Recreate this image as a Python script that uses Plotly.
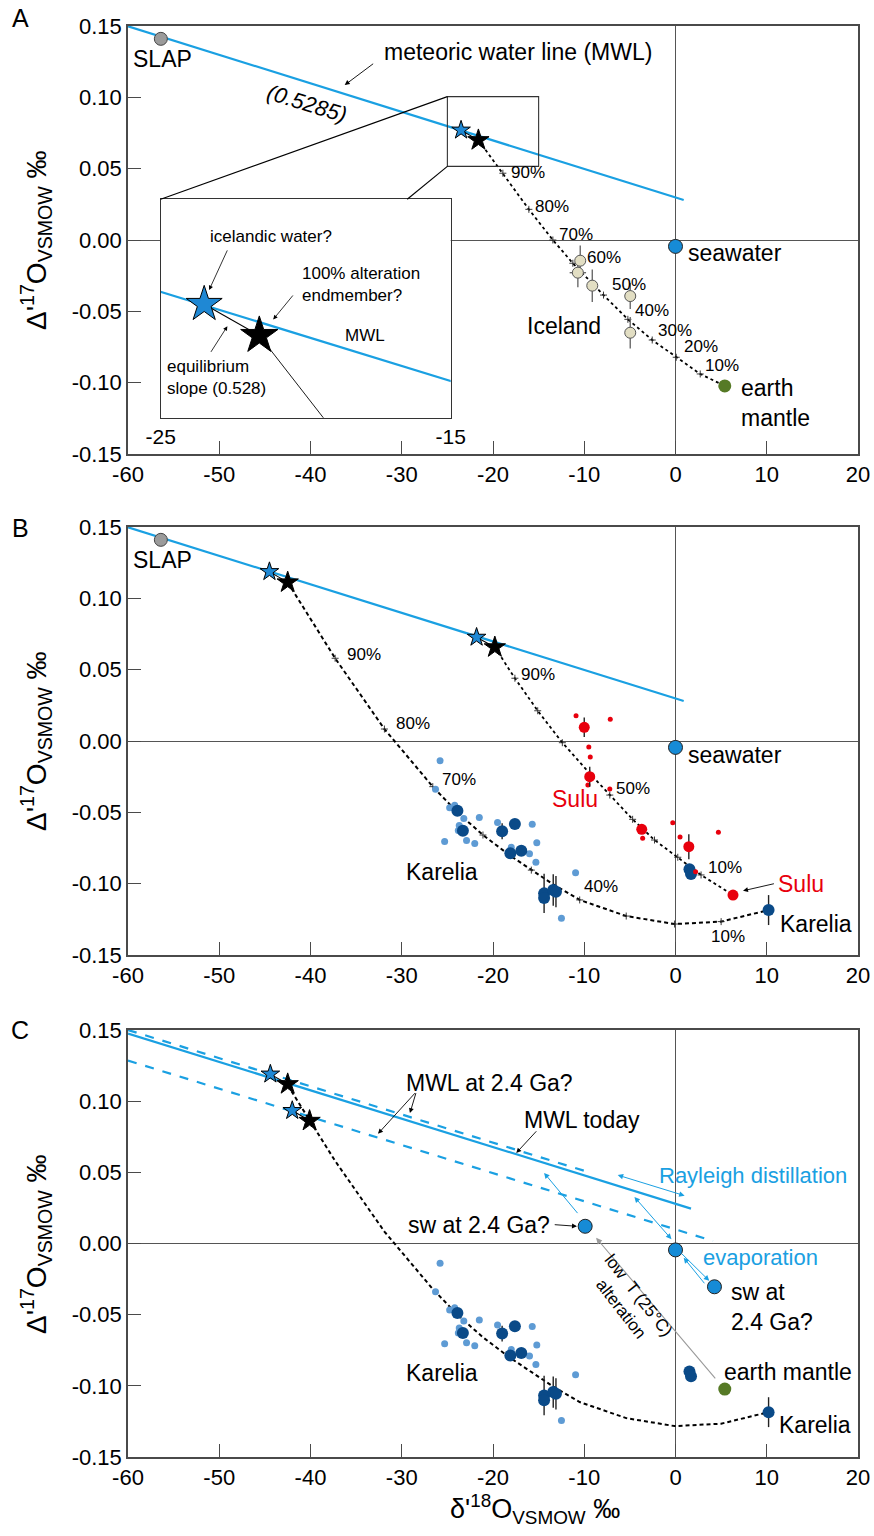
import plotly.graph_objects as go

# ---------------- data ----------------
XTICKS = [-60, -50, -40, -30, -20, -10, 0, 10, 20]
XTICK_LABELS = ["-60", "-50", "-40", "-30", "-20", "-10", "0", "10", "20"]
YTICKS = [-0.15, -0.10, -0.05, 0.0, 0.05, 0.10, 0.15]
YTICK_LABELS = ["-0.15", "-0.10", "-0.05", "0.00", "0.05", "0.10", "0.15"]

# meteoric water lines
MWL_X = [-60, 0.9]
MWL_Y = [0.1498, 0.0280]
MWL_C_X = [-60, 1.7]
MWL_C_Y = [0.1475, 0.0245]
MWL_UP_X = [-60, -9.2]
MWL_UP_Y = [0.1500, 0.0495]
MWL_LOW_X = [-60, 4.1]
MWL_LOW_Y = [0.1285, 0.0018]

SLAP_X, SLAP_Y = [-56.4], [0.141]
SEAWATER_X, SEAWATER_Y = [0.0], [-0.0045]
MANTLE_X, MANTLE_Y = [5.4], [-0.1023]

# panel A
A_STAR_BLUE_X, A_STAR_BLUE_Y = [-23.5], [0.077]
A_STAR_BLACK_X, A_STAR_BLACK_Y = [-21.6], [0.070]
ICE_CURVE_X = [-21.6, -18.92, -16.07, -13.44, -11.25, -7.89, -5.22, -2.55, 0.08, 2.71, 5.4]
ICE_CURVE_Y = [0.070, 0.0468, 0.0215, 0.0, -0.0163, -0.0386, -0.0556, -0.0701, -0.0822, -0.0939, -0.1023]
ICE_PCT = ["90%", "80%", "70%", "60%", "50%", "40%", "30%", "20%", "10%"]
ICE_PCT_X = [-16.2, -13.5, -10.9, -7.8, -5.1, -2.6, -0.1, 2.8, 5.1]
ICE_PCT_Y = [0.0474, 0.0238, 0.0042, -0.0124, -0.0311, -0.0491, -0.0631, -0.0748, -0.0881]
ICE_X = [-10.44, -10.70, -9.12, -4.96, -4.96]
ICE_Y = [-0.0145, -0.0229, -0.0320, -0.0393, -0.0650]
ICE_EY = [0.0107, 0.0103, 0.0114, 0.0091, 0.0110]
ICE_EX = [0.4, 0.9, 0.0, 0.0, 0.0]

# inset of panel A
INSET_XR = [-25, -15]
INSET_YR = [0.0516, 0.1005]
INSET_TICKS = [-25, -15]
INSET_TICK_LABELS = ["-25", "-15"]

# panel B / C
B_STAR_BLUE_X, B_STAR_BLUE_Y = [-44.5, -21.8], [0.1187, 0.0727]
B_STAR_BLACK_X, B_STAR_BLACK_Y = [-42.5, -19.8], [0.1112, 0.0657]
KAR_CURVE_X = [-42.5, -37.3, -31.9, -29.1, -26.6, -23.8, -21.1, -18.2, -15.8, -13.4, -10.5, -5.4, -0.1, 5.0, 10.2]
KAR_CURVE_Y = [0.1112, 0.058, 0.0084, -0.0133, -0.032, -0.0507, -0.0659, -0.0800, -0.0905, -0.1005, -0.1114, -0.1227, -0.1283, -0.1266, -0.1185]
KAR_TICK_X = [-37.3, -31.9, -26.6, -21.1, -15.8, -10.5, -5.4, -0.1, 5.0]
KAR_TICK_Y = [0.058, 0.0084, -0.032, -0.0659, -0.0905, -0.1114, -0.1227, -0.1283, -0.1266]
KAR_PCT = ["90%", "80%", "70%", "40%", "10%"]
KAR_PCT_X = [-34.1, -28.8, -23.7, -8.2, 5.8]
KAR_PCT_Y = [0.0603, 0.0124, -0.0273, -0.1021, -0.1370]
SULU_CURVE_X = [-19.8, -17.6, -15.1, -12.4, -9.4, -7.2, -4.7, -2.3, 0.25, 2.8, 6.3]
SULU_CURVE_Y = [0.0657, 0.044, 0.0212, -0.0012, -0.0227, -0.0379, -0.0549, -0.0694, -0.0815, -0.0939, -0.108]
SULU_PCT = ["90%", "50%", "10%"]
SULU_PCT_X = [-15.1, -4.7, 5.4]
SULU_PCT_Y = [0.0463, -0.0336, -0.0888]
SULU_BIG_X = [-10.0, -9.4, -3.7, 1.46, 6.3]
SULU_BIG_Y = [0.0096, -0.025, -0.0619, -0.0741, -0.108]
SULU_BIG_EY = [0.0068, 0.0070, 0.0, 0.0088, 0.0]
SULU_SMALL_X = [-10.9, -7.15, -9.5, -9.34, -9.6, -7.2, -3.6, -0.3, 0.5, 4.7, 2.2]
SULU_SMALL_Y = [0.0177, 0.0152, -0.0042, -0.0112, -0.0308, -0.0336, -0.0682, -0.0573, -0.0673, -0.064, -0.0916]
KAR_BIG_X = [-23.9, -23.3, -19.0, -17.6, -18.1, -16.9, -14.4, -14.4, -13.4, -13.1, 1.53, 1.7, 10.2]
KAR_BIG_Y = [-0.0489, -0.0629, -0.0633, -0.0582, -0.0787, -0.0769, -0.1068, -0.1101, -0.1044, -0.1056, -0.0899, -0.0932, -0.1185]
KAR_BIG_EY = [0, 0, 0.0056, 0, 0, 0, 0.0138, 0, 0.011, 0.011, 0, 0, 0.0105]
KAR_SMALL_X = [-25.8, -26.3, -24.75, -24.2, -23.2, -23.7, -23.8, -21.5, -25.3, -22.9, -22.0, -19.5, -15.7, -15.2, -18.0, -16.0, -15.3, -10.95, -12.5]
KAR_SMALL_Y = [-0.0138, -0.0339, -0.0467, -0.0451, -0.0544, -0.0593, -0.0628, -0.0537, -0.0705, -0.0698, -0.0719, -0.0572, -0.0584, -0.0713, -0.0745, -0.079, -0.085, -0.0923, -0.1243]

C_STAR_BLUE_X, C_STAR_BLUE_Y = [-44.4, -42.0], [0.119, 0.0934]
C_STAR_BLACK_X, C_STAR_BLACK_Y = [-42.5, -40.1], [0.112, 0.0862]
SW24_X, SW24_Y = [-9.9, 4.27], [0.0121, -0.0304]

# ---------------- styles ----------------
FONT = "Liberation Sans, Arial, sans-serif"
TICKFONT = "Liberation Sans Narrow, Arial Narrow, Liberation Sans, Arial, sans-serif"
SKY = "#1aa0e2"
STARBLUE = "#1f88d4"
SWBLUE = "#168bd6"
DARKBLUE = "#0a4a88"
LIGHTBLUE = "#5e9bd4"
RED = "#e8000d"
GREEN = "#567a26"
AXC = "#4a4a4a"
KAR_DASH = "4px,3px"

# pixel layout of the three panels
W, H = 874, 1536
ML, MR, MT, MB = 128, 16, 26, 79
PH = H - MT - MB


def ydom(top_px, bot_px):
    return [(H - MB - bot_px) / PH, (H - MB - top_px) / PH]


DOM_A = ydom(26, 454)
DOM_B = ydom(527, 955)
DOM_C = ydom(1030, 1457)
INSET_XD = [(160.7 - ML) / (W - ML - MR), (450.7 - ML) / (W - ML - MR)]
INSET_YD = ydom(199.3, 417.7)

fig = go.Figure()
P = {"A": ("x", "y"), "B": ("x2", "y2"), "C": ("x3", "y3"), "I": ("x4", "y4")}


def tr(panel, **kw):
    xa, ya = P[panel]
    kw.setdefault("showlegend", False)
    kw.setdefault("hoverinfo", "skip")
    fig.add_trace(go.Scatter(xaxis=xa, yaxis=ya, **kw))


def line(panel, x, y, color, width=2, dash="solid"):
    tr(panel, x=x, y=y, mode="lines", line=dict(color=color, width=width, dash=dash))


def pts(panel, x, y, color, size, outline=None, ow=1, symbol="circle", ey=None, ex=None, ecol="#333"):
    kw = dict(x=x, y=y, mode="markers",
              marker=dict(color=color, size=size, symbol=symbol,
                          line=dict(color=outline or color, width=ow if outline else 0)))
    if ey is not None:
        kw["error_y"] = dict(type="data", array=ey, visible=True, color=ecol, thickness=1.4, width=0)
    if ex is not None:
        kw["error_x"] = dict(type="data", array=ex, visible=True, color=ecol, thickness=1.4, width=0)
    tr(panel, **kw)


def stars(panel, bx, by, kx, ky, sb=14, sk=17):
    lx, ly = [], []
    for i in range(len(bx)):
        lx += [bx[i], kx[i], None]
        ly += [by[i], ky[i], None]
    line(panel, lx, ly, "black", 1.1)
    pts(panel, bx, by, STARBLUE, sb, "black", 1, symbol="star")
    pts(panel, kx, ky, "black", sk, "black", 1, symbol="star")


def ticks(panel, x, y):
    tr(panel, x=x, y=y, mode="markers",
       marker=dict(symbol="cross-thin", size=5, line=dict(color="#222", width=0.9)))


ann = []


def label(panel, text, x, y, size=23, color="black", xanchor="center", angle=0, align="center"):
    xa, ya = P[panel]
    ann.append(dict(text=text, x=x, y=y, xref=xa, yref=ya, showarrow=False, xanchor=xanchor,
                    yanchor="middle", textangle=angle, align=align,
                    font=dict(family=FONT, size=size, color=color)))


def labels(panel, texts, xs, ys, size=17):
    for t, x, y in zip(texts, xs, ys):
        label(panel, t, x, y, size=size)


def arrow(panel, xh, yh, xt, yt, color="black", width=1, both=False, head=2, asize=1.1):
    xa, ya = P[panel]
    d = dict(text="", x=xh, y=yh, ax=xt, ay=yt, xref=xa, yref=ya, axref=xa, ayref=ya,
             showarrow=True, arrowhead=head, arrowsize=asize, arrowwidth=width, arrowcolor=color)
    if both:
        d["arrowside"] = "end+start"
        d["startarrowhead"] = head
        d["startarrowsize"] = asize
    ann.append(d)


# ---------------- panel A ----------------
line("A", MWL_X, MWL_Y, SKY, 2.2)
pts("A", SLAP_X, SLAP_Y, "#9b9b9b", 13, "#444", 1)
line("A", ICE_CURVE_X, ICE_CURVE_Y, "black", 1.8, "dot")
ticks("A", ICE_CURVE_X[1:-1], ICE_CURVE_Y[1:-1])
pts("A", ICE_X, ICE_Y, "#e2dec3", 11, "#555", 1, ey=ICE_EY, ex=ICE_EX, ecol="#6a6a6a")
pts("A", SEAWATER_X, SEAWATER_Y, SWBLUE, 14, "#222", 1)
pts("A", MANTLE_X, MANTLE_Y, GREEN, 13)
stars("A", A_STAR_BLUE_X, A_STAR_BLUE_Y, A_STAR_BLACK_X, A_STAR_BLACK_Y, 14, 16)
labels("A", ICE_PCT, ICE_PCT_X, ICE_PCT_Y)
label("A", "SLAP", -56.2, 0.1269)
label("A", "meteoric water line (MWL)", -17.3, 0.1318)
arrow("A", -36.25, 0.1086, -32.97, 0.1243, width=0.9)
label("A", "<i>(0.5285)</i>", -40.4, 0.0958, size=22, angle=17)
label("A", "seawater", 6.5, -0.009)
label("A", "Iceland", -12.2, -0.0603)
label("A", "earth<br>mantle", 7.0, -0.1145, xanchor="left", align="left")
# zoom box in A
ix0 = -60 + 80 * INSET_XD[0]
ytop = -0.15 + 0.3 * (INSET_YD[1] - DOM_A[0]) / (DOM_A[1] - DOM_A[0])
shapes = [
    dict(type="rect", xref="x", yref="y", x0=INSET_XR[0], x1=INSET_XR[1], y0=INSET_YR[0], y1=INSET_YR[1],
         line=dict(color="#333", width=1.1), layer="above"),
    dict(type="line", xref="x", yref="y", x0=INSET_XR[0], y0=INSET_YR[1], x1=ix0, y1=ytop,
         line=dict(color="black", width=1.1)),
    dict(type="line", xref="x", yref="y", x0=INSET_XR[0], y0=INSET_YR[0], x1=-29.4, y1=ytop,
         line=dict(color="black", width=1.1)),
]

# inset
line("I", MWL_X, MWL_Y, SKY, 2.2)
line("I", ICE_CURVE_X, ICE_CURVE_Y, "black", 0.9)
stars("I", A_STAR_BLUE_X, A_STAR_BLUE_Y, A_STAR_BLACK_X, A_STAR_BLACK_Y, 27, 28)
label("I", "icelandic water?", -21.2, 0.0921, size=17)
arrow("I", -23.33, 0.0802, -22.68, 0.0894, width=0.8)
label("I", "100% alteration<br>endmember?", -20.2, 0.0814, size=17, xanchor="left", align="left")
arrow("I", -21.12, 0.0736, -20.4, 0.0793, width=0.8)
label("I", "MWL", -17.94, 0.0699, size=17)
label("I", "equilibrium<br>slope (0.528)", -24.85, 0.0605, size=17, xanchor="left", align="left")
arrow("I", -22.7, 0.0721, -23.3, 0.0660, width=0.8)

# ---------------- panel B ----------------
line("B", MWL_X, MWL_Y, SKY, 2.2)
pts("B", SLAP_X, SLAP_Y, "#9b9b9b", 13, "#444", 1)
line("B", KAR_CURVE_X, KAR_CURVE_Y, "black", 2, KAR_DASH)
ticks("B", KAR_TICK_X, KAR_TICK_Y)
line("B", SULU_CURVE_X, SULU_CURVE_Y, "black", 1.8, "dot")
ticks("B", SULU_CURVE_X[1:-1], SULU_CURVE_Y[1:-1])
pts("B", KAR_SMALL_X, KAR_SMALL_Y, LIGHTBLUE, 7)
pts("B", KAR_BIG_X, KAR_BIG_Y, DARKBLUE, 12, ey=KAR_BIG_EY, ecol="#222")
pts("B", SULU_SMALL_X, SULU_SMALL_Y, RED, 5)
pts("B", SULU_BIG_X, SULU_BIG_Y, RED, 11, ey=SULU_BIG_EY, ecol="#222")
pts("B", SEAWATER_X, SEAWATER_Y, SWBLUE, 14, "#222", 1)
stars("B", B_STAR_BLUE_X, B_STAR_BLUE_Y, B_STAR_BLACK_X, B_STAR_BLACK_Y, 14, 16)
labels("B", KAR_PCT, KAR_PCT_X, KAR_PCT_Y)
labels("B", SULU_PCT, SULU_PCT_X, SULU_PCT_Y)
label("B", "SLAP", -56.2, 0.1269)
label("B", "seawater", 6.5, -0.0098)
label("B", "Sulu", -11.0, -0.0407, color=RED)
label("B", "Sulu", 13.8, -0.1002, color=RED)
arrow("B", 7.4, -0.105, 10.95, -0.0998, width=0.9)
label("B", "Karelia", -25.6, -0.0916)
label("B", "Karelia", 15.4, -0.1283)

# ---------------- panel C ----------------
line("C", MWL_UP_X, MWL_UP_Y, SKY, 2.2, "dash")
line("C", MWL_LOW_X, MWL_LOW_Y, SKY, 2.2, "dash")
line("C", MWL_C_X, MWL_C_Y, SKY, 2.2)
line("C", KAR_CURVE_X, KAR_CURVE_Y, "black", 2, KAR_DASH)
pts("C", KAR_SMALL_X, KAR_SMALL_Y, LIGHTBLUE, 7)
pts("C", KAR_BIG_X, KAR_BIG_Y, DARKBLUE, 12, ey=KAR_BIG_EY, ecol="#222")
pts("C", SEAWATER_X, SEAWATER_Y, SWBLUE, 14, "#222", 1)
pts("C", SW24_X, SW24_Y, SWBLUE, 14, "#222", 1)
pts("C", MANTLE_X, MANTLE_Y, GREEN, 13)
stars("C", C_STAR_BLUE_X, C_STAR_BLUE_Y, C_STAR_BLACK_X, C_STAR_BLACK_Y, 14, 16)
label("C", "MWL at 2.4 Ga?", -20.4, 0.1126)
arrow("C", -32.6, 0.0771, -28.4, 0.1067, width=0.9)
arrow("C", -29.1, 0.0916, -28.4, 0.1067, width=0.9)
label("C", "MWL today", -10.2, 0.0869)
arrow("C", -17.45, 0.0636, -15.1, 0.0799, width=0.9)
label("C", "Rayleigh distillation", 8.5, 0.0477, size=22, color=SKY)
arrow("C", 1.0, 0.0336, -6.5, 0.0484, color=SKY, width=1, both=True)
label("C", "sw at 2.4 Ga?", -21.5, 0.0133)
arrow("C", -10.8, 0.0121, -13.4, 0.0133, width=0.9)
arrow("C", -14.4, 0.0496, -10.6, 0.0203, color=SKY, width=1)
arrow("C", -4.5, 0.0327, -0.3, 0.0020, color=SKY, width=1, both=True)
arrow("C", 3.7, -0.0262, 0.5, -0.0060, color=SKY, width=1)
arrow("C", 0.9, -0.0100, 3.3, -0.0290, color=SKY, width=1)
label("C", "evaporation", 9.3, -0.0100, size=22, color=SKY)
label("C", "sw at<br>2.4 Ga?", 5.84, -0.0445, xanchor="left", align="left")
arrow("C", -8.7, 0.0040, 4.5, -0.0958, color="#9a9a9a", width=1.1)
label("C", "low  T (25°C)<br>alteration", -5.0, -0.0416, size=17, angle=52)
label("C", "earth mantle", 12.3, -0.0906)
label("C", "Karelia", -25.6, -0.0911)
label("C", "Karelia", 15.3, -0.1276)

# ---------------- panel letters & axis titles ----------------
PW = W - ML - MR
for letter, top_px, title_px in (("A", 18, 240), ("B", 528, 741), ("C", 1030, 1244)):
    ann.append(dict(text=letter, x=(20 - ML) / PW, y=(H - MB - top_px) / PH, xref="paper", yref="paper",
                    showarrow=False, xanchor="center", yanchor="middle",
                    font=dict(family=FONT, size=25, color="black")))
    ann.append(dict(text="Δ'<sup>17</sup>O<sub>VSMOW</sub> ‰", x=(36 - ML) / PW, y=(H - MB - title_px) / PH,
                    xref="paper", yref="paper", showarrow=False, textangle=-90,
                    xanchor="center", yanchor="middle",
                    font=dict(family=TICKFONT, size=28, color="black")))
ann.append(dict(text="δ'<sup>18</sup>O<sub>VSMOW</sub> ‰", x=(535 - ML) / PW, y=(H - MB - 1509) / PH,
                xref="paper", yref="paper", showarrow=False, xanchor="center", yanchor="middle",
                font=dict(family=TICKFONT, size=27, color="black")))

# ---------------- axes ----------------
def xax(anchor):
    return dict(range=[-60, 20], tickmode="array", tickvals=XTICKS, ticktext=XTICK_LABELS,
                ticks="inside", ticklen=13, tickwidth=1.2, tickcolor=AXC,
                showline=True, linecolor=AXC, linewidth=1.5, mirror=True,
                zeroline=True, zerolinecolor="#555", zerolinewidth=1.3, showgrid=False,
                tickfont=dict(family=TICKFONT, size=22, color="black"), anchor=anchor, domain=[0, 1])


def yax(anchor, dom):
    return dict(range=[-0.15, 0.15], tickmode="array", tickvals=YTICKS, ticktext=YTICK_LABELS,
                ticks="inside", ticklen=13, tickwidth=1.2, tickcolor=AXC,
                showline=True, linecolor=AXC, linewidth=1.5, mirror=True,
                zeroline=True, zerolinecolor="#555", zerolinewidth=1.3, showgrid=False,
                tickfont=dict(family=TICKFONT, size=22, color="black"), anchor=anchor, domain=dom)


fig.update_layout(
    width=W, height=H, margin=dict(l=ML, r=MR, t=MT, b=MB, autoexpand=False),
    paper_bgcolor="white", plot_bgcolor="white", showlegend=False,
    xaxis=xax("y"), yaxis=yax("x", DOM_A),
    xaxis2=xax("y2"), yaxis2=yax("x2", DOM_B),
    xaxis3=xax("y3"), yaxis3=yax("x3", DOM_C),
    xaxis4=dict(range=INSET_XR, domain=INSET_XD, anchor="y4", tickmode="array", tickvals=INSET_TICKS,
                ticktext=INSET_TICK_LABELS, ticks="", showline=True, mirror=True, linecolor="#333",
                linewidth=1.2, zeroline=False, showgrid=False,
                tickfont=dict(family=TICKFONT, size=21, color="black")),
    yaxis4=dict(range=INSET_YR, domain=INSET_YD, anchor="x4", showticklabels=False, ticks="",
                showline=True, mirror=True, linecolor="#333", linewidth=1.2, zeroline=False, showgrid=False),
    annotations=ann, shapes=shapes,
    font=dict(family=FONT),
)

fig.write_html("out.html", config={"displayModeBar": False},
               post_script="document.body.style.margin='0px';")
